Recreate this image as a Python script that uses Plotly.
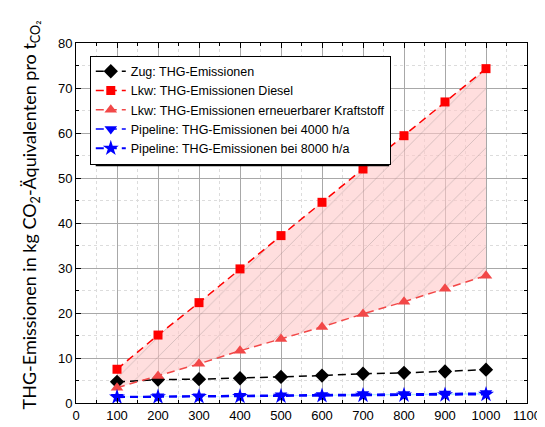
import plotly.graph_objects as go

x_vals = [100, 200, 300, 400, 500, 600, 700, 800, 900, 1000]
zug = [4.7, 5.2, 5.3, 5.5, 5.8, 6.1, 6.5, 6.7, 7.0, 7.4]
lkw_diesel = [7.5, 15.1, 22.3, 29.8, 37.2, 44.6, 52.0, 59.4, 66.9, 74.3]
lkw_erneuerbar = [3.4, 6.0, 8.7, 11.6, 14.2, 16.9, 19.8, 22.5, 25.4, 28.3]
pipe_4000 = [1.4, 1.5, 1.5, 1.6, 1.7, 1.8, 2.0, 2.0, 2.1, 2.2]
pipe_8000 = [1.3, 1.35, 1.4, 1.45, 1.5, 1.6, 1.7, 1.75, 1.8, 1.9]

names = [
    "Zug: THG-Emissionen",
    "Lkw: THG-Emissionen Diesel",
    "Lkw: THG-Emissionen erneuerbarer Kraftstoff",
    "Pipeline: THG-Emissionen bei 4000 h/a",
    "Pipeline: THG-Emissionen bei 8000 h/a",
]

fig = go.Figure()

# hatched band between diesel and renewable
fig.add_trace(go.Scatter(
    x=x_vals + x_vals[::-1],
    y=lkw_diesel + lkw_erneuerbar[::-1],
    fill="toself", mode="none", showlegend=False, hoverinfo="skip",
    fillcolor="rgba(255,0,0,0.15)",
    fillpattern=dict(shape="/", fgcolor="rgba(90,90,90,0.55)",
                     bgcolor="rgba(255,200,200,0.6)", size=14, solidity=0.06),
))
# thin cyan band between pipelines
fig.add_trace(go.Scatter(
    x=x_vals + x_vals[::-1],
    y=pipe_4000 + pipe_8000[::-1],
    fill="toself", mode="none", showlegend=False, hoverinfo="skip",
    fillcolor="rgba(150,230,255,0.7)",
))

dash = "8px,5px"
fig.add_trace(go.Scatter(x=x_vals, y=zug, name=names[0], mode="lines+markers",
    line=dict(color="black", width=1.5, dash=dash),
    marker=dict(symbol="diamond", size=11, color="black")))
fig.add_trace(go.Scatter(x=x_vals, y=lkw_diesel, name=names[1], mode="lines+markers",
    line=dict(color="#ff0000", width=1.5, dash=dash),
    marker=dict(symbol="square", size=9, color="#ff0000")))
fig.add_trace(go.Scatter(x=x_vals, y=lkw_erneuerbar, name=names[2], mode="lines+markers",
    line=dict(color="#f24848", width=1.5, dash=dash),
    marker=dict(symbol="triangle-up", size=11, color="#f24848")))
fig.add_trace(go.Scatter(x=x_vals, y=pipe_4000, name=names[3], mode="lines+markers",
    line=dict(color="#0000ff", width=1.5, dash=dash),
    marker=dict(symbol="triangle-down", size=11, color="#0000ff")))
fig.add_trace(go.Scatter(x=x_vals, y=pipe_8000, name=names[4], mode="lines+markers",
    line=dict(color="#0000ff", width=2, dash=dash),
    marker=dict(symbol="star", size=12, color="#0000ff")))

L, R, T, B = 68, 19, 35, 21
W, H = 545, 427
pw, ph = W - L - R, H - T - B

def px(xp):
    return (xp - L) / pw

def py(yp):
    return (H - B - yp) / ph

# legend geometry (pixels) and its drop shadow
leg_l, leg_t, leg_r, leg_b = 82, 48, 380, 156
sh = 6
fig.add_shape(type="rect", xref="paper", yref="paper",
              x0=px(leg_l + sh), x1=px(leg_r + sh), y0=py(leg_b + sh), y1=py(leg_t + sh),
              fillcolor="black", line=dict(width=0), layer="above")

axis_common = dict(
    showline=True, linecolor="black", linewidth=1, mirror="ticks",
    ticks="inside", ticklen=5, tickcolor="black",
    showgrid=True, gridcolor="#a8a8a8", gridwidth=1,
    zeroline=False,
    tickfont=dict(family="Liberation Sans, Arial", size=13, color="black"),
)

fig.update_xaxes(range=[0, 1100], dtick=100, tick0=0,
                 minor=dict(dtick=50, ticks="inside", ticklen=3, tickcolor="black",
                            showgrid=True, gridcolor="#dcdcdc", griddash="dot"),
                 **axis_common)
fig.update_yaxes(range=[0, 80], dtick=10, tick0=0,
                 minor=dict(dtick=5, ticks="inside", ticklen=3, tickcolor="black",
                            showgrid=True, gridcolor="#dcdcdc", griddash="dot"),
                 **axis_common)

fig.add_annotation(
    text="THG-Emissionen in kg CO<sub>2</sub>-Äquivalenten pro t<sub>CO₂</sub>",
    xref="paper", yref="paper", x=px(22), y=py(212),
    xanchor="center", yanchor="middle", textangle=-90, showarrow=False,
    font=dict(family="Lato", size=18, color="black"),
)

fig.update_layout(
    width=W, height=H,
    margin=dict(l=L, r=R, t=T, b=B),
    plot_bgcolor="white", paper_bgcolor="white",
    legend=dict(x=px(leg_l), y=py(leg_t), xanchor="left", yanchor="top",
                bgcolor="white", bordercolor="black", borderwidth=1,
                font=dict(family="Liberation Sans, Arial", size=12.5, color="black"),
                tracegroupgap=0, itemwidth=30),
)

fig.write_html("out.html")
